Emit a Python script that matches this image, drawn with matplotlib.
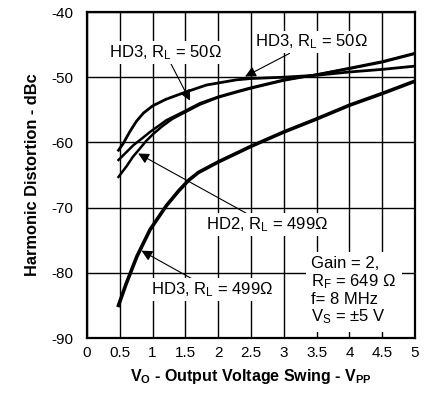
import matplotlib
matplotlib.use("Agg")
import matplotlib.pyplot as plt

plt.rcParams['font.family'] = ['Liberation Sans', 'DejaVu Sans']
plt.rcParams['mathtext.fontset'] = 'custom'
plt.rcParams['mathtext.rm'] = 'Liberation Sans'
plt.rcParams['mathtext.it'] = 'Liberation Sans'
plt.rcParams['mathtext.bf'] = 'Liberation Sans:bold'
plt.rcParams['axes.unicode_minus'] = False

# HD3, RL = 50 ohm (upper, flattens out)
x_a = [0.48, 0.55, 0.65, 0.75, 0.86, 1.0, 1.2, 1.47, 1.82, 2.28, 2.5, 3.0, 3.5, 4.0, 4.5, 5.0]
y_a = [-61.2, -60.2, -58.4, -56.8, -55.5, -54.4, -53.4, -52.4, -51.2, -50.4, -50.2, -50.0, -49.7, -49.2, -48.8, -48.3]

# HD3, RL = 50 ohm (second trace)
x_b = [0.48, 0.6, 0.71, 0.85, 0.96, 1.1, 1.21, 1.47, 1.72, 2.0, 2.28, 2.5, 3.0, 3.5, 4.0, 4.5, 5.0]
y_b = [-62.7, -61.5, -60.4, -59.3, -58.4, -57.4, -56.6, -55.3, -54.0, -53.0, -52.2, -51.6, -50.4, -49.6, -48.6, -47.6, -46.3]

# HD2, RL = 499 ohm
x_c = [0.48, 0.6, 0.7, 0.81, 0.9, 1.01, 1.15, 1.3, 1.47, 1.72, 2.0, 2.28, 2.5, 3.0, 3.5, 4.0, 4.5, 5.0]
y_c = [-65.3, -63.7, -62.2, -60.9, -59.8, -58.7, -57.5, -56.4, -55.5, -54.2, -53.1, -52.3, -51.7, -50.5, -49.6, -48.7, -47.7, -46.4]

# HD3, RL = 499 ohm
x_d = [0.48, 0.6, 0.76, 0.96, 1.21, 1.4, 1.55, 1.7, 2.0, 2.5, 3.0, 3.5, 4.0, 4.5, 5.0]
y_d = [-85.0, -81.6, -77.5, -73.4, -69.7, -67.4, -65.8, -64.6, -63.0, -60.6, -58.4, -56.4, -54.3, -52.5, -50.6]

xticks = [0, 0.5, 1, 1.5, 2, 2.5, 3, 3.5, 4, 4.5, 5]
xticklabels = ['0', '0.5', '1', '1.5', '2', '2.5', '3', '3.5', '4', '4.5', '5']
yticks = [-90, -80, -70, -60, -50, -40]

fig = plt.figure(figsize=(4.29, 3.95), dpi=100)
ax = fig.add_axes([0.2028, 0.1443, 0.7646, 0.8253])

ax.plot(x_a, y_a, color='black', lw=2.0, zorder=3)
ax.plot(x_b, y_b, color='black', lw=1.8, zorder=3)
ax.plot(x_c, y_c, color='black', lw=1.8, zorder=3)
ax.plot(x_d, y_d, color='black', lw=2.6, zorder=3)

ax.set_xlim(0, 5)
ax.set_ylim(-90, -40)
ax.set_xticks(xticks)
ax.set_xticklabels(xticklabels)
ax.set_yticks(yticks)
ax.tick_params(length=0, labelsize=11)
ax.tick_params(axis='y', pad=10)
ax.tick_params(axis='x', pad=6)
ax.grid(True, color='black', lw=1.0, zorder=1)
ax.set_axisbelow(True)
for s in ax.spines.values():
    s.set_linewidth(1.6)

ax.set_xlabel(r'$\mathbf{V_O}$ - Output Voltage Swing - $\mathbf{V_{PP}}$',
              fontsize=11.5, fontweight='bold', labelpad=5)
ax.set_ylabel('Harmonic Distortion - dBc', fontsize=11.8, fontweight='bold', labelpad=8)

box = dict(fc='white', ec='none', pad=1.5)
arrow = dict(arrowstyle='-|>', color='black', lw=0.8, mutation_scale=16,
             shrinkA=0, shrinkB=0)
fs = 12

ax.annotate(r'HD3, R$_\mathrm{L}$ = 50Ω', xy=(1.57, -53.6), xytext=(1.19, -46.2),
            ha='center', va='center', fontsize=fs, bbox=box, arrowprops=arrow, zorder=5)
ax.annotate(r'HD3, R$_\mathrm{L}$ = 50Ω', xy=(2.41, -49.9), xytext=(3.42, -44.6),
            ha='center', va='center', fontsize=fs, bbox=box, arrowprops=arrow, zorder=5)
ax.annotate(r'HD2, R$_\mathrm{L}$ = 499Ω', xy=(0.78, -61.7), xytext=(2.74, -72.6),
            ha='center', va='center', fontsize=fs, bbox=box, arrowprops=arrow, zorder=5)
ax.annotate(r'HD3, R$_\mathrm{L}$ = 499Ω', xy=(0.83, -76.6), xytext=(1.9, -82.6),
            ha='center', va='center', fontsize=fs, bbox=box, arrowprops=arrow, zorder=5)

ax.text(3.42, -82.8, 'Gain = 2,\nR$_\mathrm{F}$ = 649 Ω\nf= 8 MHz\nV$_\mathrm{S}$ = ±5 V',
        ha='left', va='center', fontsize=fs, linespacing=1.08,
        bbox=dict(fc='white', ec='none', pad=4), zorder=5)

fig.savefig('out.png', dpi=100)
